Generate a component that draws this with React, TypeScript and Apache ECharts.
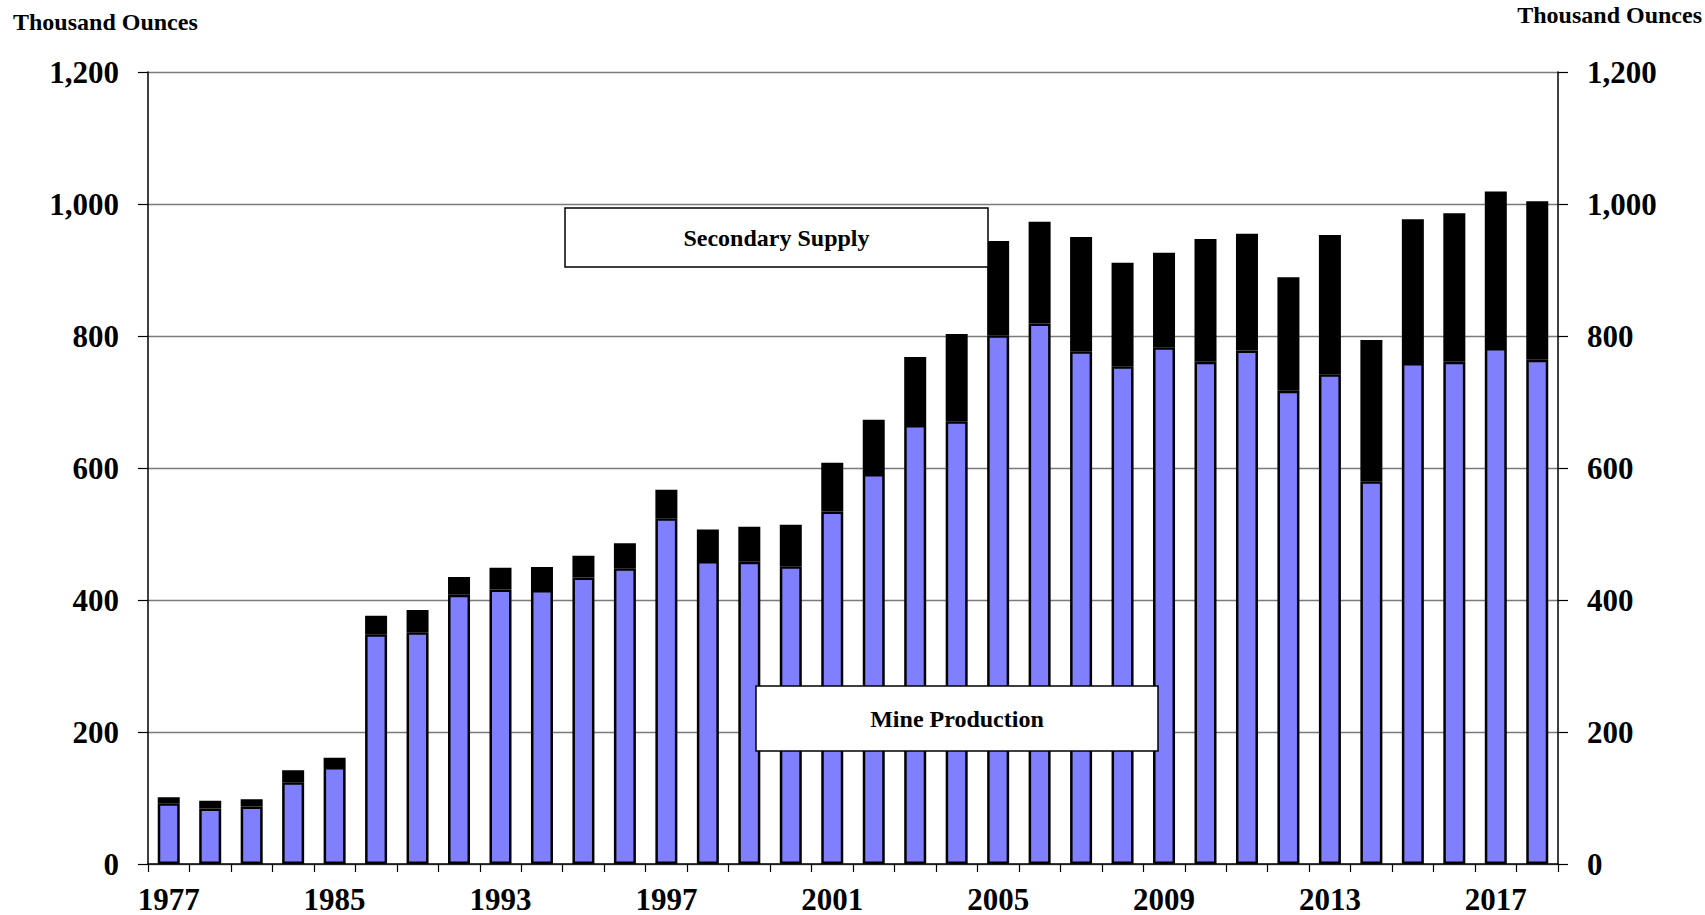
import React, { useEffect, useRef } from "react";
import * as echarts from "echarts";

const years = [
  "1977", "1979", "1981", "1983", "1985", "1987", "1989", "1991", "1993", "1994",
  "1995", "1996", "1997", "1998", "1999", "2000", "2001", "2002", "2003", "2004",
  "2005", "2006", "2007", "2008", "2009", "2010", "2011", "2012", "2013", "2014",
  "2015", "2016", "2017", "2018",
];

const mineProduction = [
  92, 84, 87, 124, 147, 348, 351, 408, 416, 415,
  434, 448, 524, 459, 458, 451, 534, 591, 665, 671,
  801, 819, 777, 754, 783, 761, 778, 717, 742, 580,
  759, 761, 782, 764,
];

const secondarySupply = [
  9, 12, 11, 18, 14, 28, 34, 27, 33, 35,
  33, 38, 43, 48, 53, 63, 74, 82, 103, 132,
  143, 154, 173, 157, 143, 186, 177, 172, 211, 214,
  218, 225, 237, 240,
];

const yTicks = { min: 0, max: 1200, interval: 200 };
const unitTitle = "Thousand Ounces";
const seriesNames = ["Mine Production", "Secondary Supply"];

const FONT = "'Liberation Serif', 'Times New Roman', serif";

export default function App() {
  const ref = useRef<HTMLDivElement>(null);

  useEffect(() => {
    if (!ref.current) return;
    const chart = echarts.init(ref.current, null, { renderer: "svg" });
    const fmt = (v: number) => v.toLocaleString("en-US");
    const axisLabelStyle = {
      fontFamily: FONT,
      fontWeight: "bold" as const,
      fontSize: 31,
      color: "#000",
    };
    const boxText = (
      cx: number,
      cy: number,
      w: number,
      h: number,
      text: string
    ) => [
      {
        type: "rect",
        z: 100,
        zlevel: 1,
        shape: { x: cx - w / 2, y: cy - h / 2, width: w, height: h },
        style: { fill: "#fff", stroke: "#000", lineWidth: 1.5 },
      },
      {
        type: "text",
        z: 101,
        zlevel: 1,
        x: cx,
        y: cy,
        style: {
          text,
          fontFamily: FONT,
          fontWeight: "bold",
          fontSize: 24,
          fill: "#000",
          align: "center",
          verticalAlign: "middle",
        },
      },
    ];

    chart.setOption({
      animation: false,
      backgroundColor: "#fff",
      grid: { left: 148, right: 147, top: 72, bottom: 51 },
      xAxis: {
        type: "category",
        data: years,
        boundaryGap: true,
        axisLine: { show: true, lineStyle: { color: "#000", width: 1.5 } },
        axisTick: {
          show: true,
          interval: 0,
          length: 8,
          lineStyle: { color: "#000", width: 1.2 },
        },
        axisLabel: { ...axisLabelStyle, interval: 3, margin: 22, lineHeight: 26 },
        splitLine: { show: false },
      },
      yAxis: [
        {
          type: "value",
          ...yTicks,
          position: "left",
          axisLine: { show: true, lineStyle: { color: "#000", width: 1.5 } },
          axisTick: {
            show: true,
            length: 10,
            lineStyle: { color: "#000", width: 1.2 },
          },
          axisLabel: { ...axisLabelStyle, margin: 29, formatter: fmt },
          splitLine: { show: true, lineStyle: { color: "#7a7a7a", width: 1.3 } },
        },
        {
          type: "value",
          ...yTicks,
          position: "right",
          axisLine: { show: true, lineStyle: { color: "#000", width: 1.5 } },
          axisTick: {
            show: true,
            length: 10,
            lineStyle: { color: "#000", width: 1.2 },
          },
          axisLabel: { ...axisLabelStyle, margin: 29, formatter: fmt },
          splitLine: { show: false },
        },
      ],
      series: [
        {
          name: seriesNames[0],
          type: "bar",
          stack: "total",
          data: mineProduction,
          barWidth: 22,
          itemStyle: { color: "#8080FF", borderColor: "#000", borderWidth: 2.5 },
        },
        {
          name: seriesNames[1],
          type: "bar",
          stack: "total",
          data: secondarySupply,
          barWidth: 22,
          itemStyle: { color: "#000", borderColor: "#000", borderWidth: 2.5 },
        },
      ],
      graphic: [
        {
          type: "text",
          left: 13,
          top: 10,
          style: {
            text: unitTitle,
            fontFamily: FONT,
            fontWeight: "bold",
            fontSize: 24,
            fill: "#000",
          },
        },
        {
          type: "text",
          right: 3,
          top: 3,
          style: {
            text: unitTitle,
            fontFamily: FONT,
            fontWeight: "bold",
            fontSize: 24,
            fill: "#000",
          },
        },
        ...boxText(776.5, 237.5, 423, 59, seriesNames[1]),
        ...boxText(957, 718.5, 402, 65, seriesNames[0]),
      ],
    });

    return () => chart.dispose();
  }, []);

  return (
    <div
      ref={ref}
      style={{ position: "absolute", left: 0, top: 0, width: 1705, height: 915 }}
    />
  );
}
